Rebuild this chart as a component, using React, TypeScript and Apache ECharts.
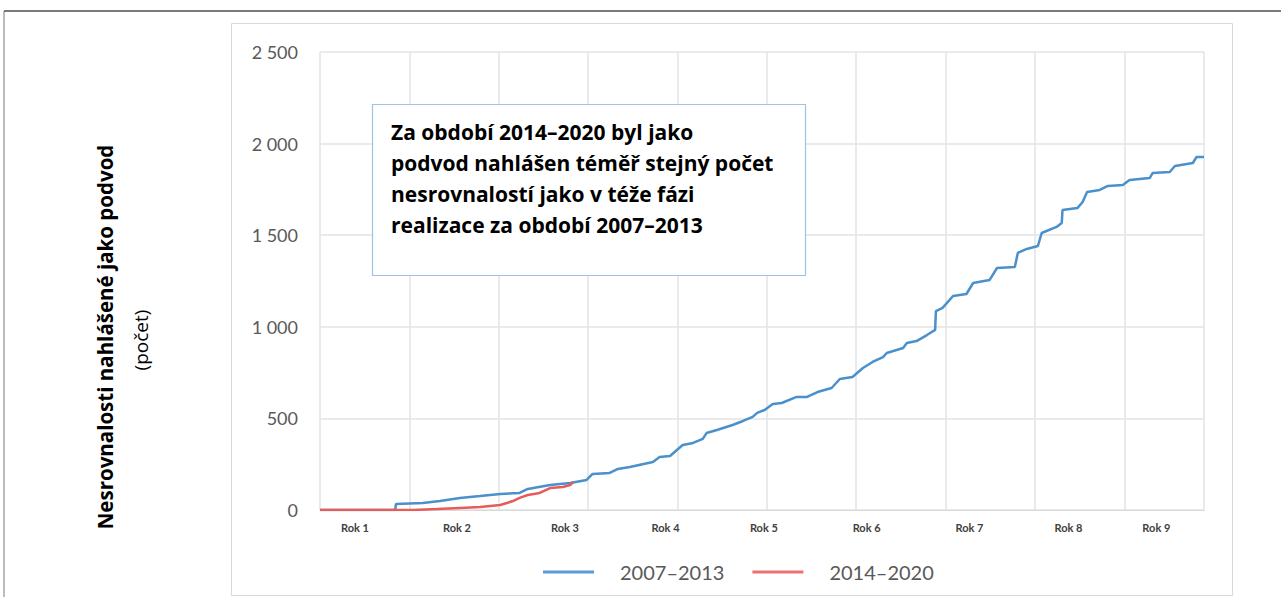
import React, { useEffect, useRef } from "react";
import * as echarts from "echarts";

// x = months since start of the programming period, y = cumulative count
const blueMonths = [0, 10.1, 10.2, 13.8, 16.1, 18.8, 21.5, 24.2, 26.8, 27.9, 30.9, 33.6, 35.8, 36.6, 38.9, 40.0, 41.6, 44.7, 45.6, 47.0, 48.7, 50.1, 51.4, 51.9, 53.3, 55.4, 56.8, 58.1, 58.7, 59.7, 60.8, 62.0, 64.0, 65.4, 66.8, 68.7, 69.8, 71.5, 72.9, 74.2, 75.6, 76.1, 78.3, 78.8, 80.1, 81.5, 82.6, 82.7, 83.6, 85.0, 86.8, 87.7, 89.9, 90.9, 93.3, 93.7, 94.9, 96.4, 96.9, 98.9, 99.6, 99.7, 101.7, 102.4, 103.0, 104.7, 105.8, 107.8, 108.7, 111.4, 111.8, 114.1, 114.8, 117.2, 117.7, 118.7];
const blueValues = [0, 0, 33, 38, 49, 66, 76, 87, 93, 115, 136, 147, 164, 197, 202, 224, 235, 262, 289, 295, 355, 366, 388, 420, 437, 464, 486, 508, 530, 546, 579, 584, 617, 617, 644, 666, 715, 726, 775, 808, 835, 857, 884, 912, 922, 955, 983, 1086, 1103, 1168, 1179, 1239, 1255, 1321, 1326, 1403, 1425, 1441, 1512, 1545, 1567, 1637, 1648, 1681, 1736, 1747, 1769, 1774, 1801, 1812, 1839, 1845, 1878, 1894, 1927, 1927];

const redMonths = [0, 12.5, 15.7, 18.8, 21.5, 24.2, 25.1, 25.9, 26.8, 27.9, 29.5, 30.9, 32.6, 33.6, 34.0];
const redValues = [0, 0, 5, 11, 16, 27, 38, 49, 66, 82, 93, 120, 126, 136, 153];

const seriesNames = ["2007–2013", "2014–2020"];
const yearLabels = ["Rok 1", "Rok 2", "Rok 3", "Rok 4", "Rok 5", "Rok 6", "Rok 7", "Rok 8", "Rok 9"];
const yearLabelMonths = [4.7, 18.4, 32.9, 46.4, 59.6, 73.4, 87.2, 100.5, 112.3];

const yTitle = "Nesrovnalosti nahlášené jako podvod";
const yUnit = "(počet)";
const boxText = "Za období 2014–2020 byl jako\npodvod nahlášen téměř stejný počet\nnesrovnalostí jako v téže fázi\nrealizace za období 2007–2013";

const FONT = "Lato, 'Open Sans', sans-serif";
const WIDE = "'Open Sans', Lato, sans-serif";

export default function App() {
  const ref = useRef<HTMLDivElement>(null);
  useEffect(() => {
    if (!ref.current) return;
    const chart = echarts.init(ref.current, undefined, { renderer: "svg" });
    const fmt = (v: number) => String(v).replace(/\B(?=(\d{3})+(?!\d))/g, " ");
    chart.setOption({
      animation: false,
      backgroundColor: "#ffffff",
      grid: { left: 320, right: 77, top: 52, bottom: 87, containLabel: false },
      xAxis: [
        {
          type: "value",
          min: 0,
          max: 118.7,
          interval: 12,
          position: "bottom",
          axisLine: { show: true, lineStyle: { color: "#d9d9d9", width: 1 } },
          axisTick: { show: false },
          axisLabel: { show: false },
          splitLine: { show: true, lineStyle: { color: "#e3e3e3", width: 1.5 } },
        },
        {
          type: "value",
          min: 0,
          max: 118.7,
          position: "bottom",
          axisLine: { show: false },
          axisTick: { show: false },
          splitLine: { show: false },
          axisLabel: {
            show: true,
            customValues: yearLabelMonths,
            margin: 12,
            fontSize: 11,
            fontWeight: "bold",
            color: "#404040",
            fontFamily: FONT,
            formatter: (v: number) => {
              const i = yearLabelMonths.findIndex((m) => Math.abs(m - v) < 0.01);
              return i >= 0 ? yearLabels[i] : "";
            },
          },
        },
      ],
      yAxis: {
        type: "value",
        min: 0,
        max: 2500,
        interval: 500,
        axisLine: { show: false },
        axisTick: { show: false },
        splitLine: { show: true, lineStyle: { color: "#e3e3e3", width: 1.5 } },
        axisLabel: { margin: 22, fontSize: 18, color: "#595959", fontFamily: FONT, formatter: fmt },
      },
      legend: {
        left: 543,
        top: 562,
        padding: 0,
        icon: "rect",
        itemWidth: 51,
        itemHeight: 3,
        itemGap: 28,
        textStyle: { fontSize: 20, color: "#595959", fontFamily: FONT, padding: [0, 0, 0, 21] },
        data: seriesNames,
      },
      series: [
        {
          name: seriesNames[0],
          type: "line",
          xAxisIndex: 0,
          showSymbol: false,
          symbol: "none",
          lineStyle: { color: "#4a90cc", width: 2.5 },
          itemStyle: { color: "#5b9bd5" },
          data: blueMonths.map((m, i) => [m, blueValues[i]]),
          z: 2,
        },
        {
          name: seriesNames[1],
          type: "line",
          xAxisIndex: 0,
          showSymbol: false,
          symbol: "none",
          lineStyle: { color: "#e65c5a", width: 2.5 },
          itemStyle: { color: "#ee7070" },
          data: redMonths.map((m, i) => [m, redValues[i]]),
          z: 3,
        },
      ],
      graphic: [
        { type: "line", shape: { x1: 4, y1: 11, x2: 1281, y2: 11 }, style: { stroke: "#7a7a7a", lineWidth: 2 }, z: 1 },
        { type: "line", shape: { x1: 4, y1: 11, x2: 4, y2: 597 }, style: { stroke: "#7a7a7a", lineWidth: 1 }, z: 1 },
        { type: "rect", shape: { x: 231.5, y: 23.5, width: 1001, height: 572 }, style: { fill: "none", stroke: "#d9d9d9", lineWidth: 1 }, z: 1 },
        {
          type: "text",
          x: 105,
          y: 337,
          rotation: Math.PI / 2,
          style: { text: yTitle, fontSize: 20.5, fontWeight: "bold", fill: "#000000", fontFamily: WIDE, align: "center", verticalAlign: "middle" },
        },
        {
          type: "text",
          x: 141,
          y: 340,
          rotation: Math.PI / 2,
          style: { text: yUnit, fontSize: 19, fill: "#000000", fontFamily: WIDE, align: "center", verticalAlign: "middle" },
        },
        {
          type: "rect",
          shape: { x: 372.5, y: 104.5, width: 433, height: 171 },
          style: { fill: "#ffffff", stroke: "#9dc3e6", lineWidth: 1.2 },
          z: 50,
        },
        {
          type: "text",
          x: 391,
          y: 116,
          z: 51,
          style: { text: boxText, fontSize: 21, fontWeight: "bold", fill: "#000000", fontFamily: WIDE, lineHeight: 31, align: "left", verticalAlign: "top" },
        },
      ],
    });
    return () => chart.dispose();
  }, []);
  return <div ref={ref} style={{ position: "absolute", left: 0, top: 0, width: 1281, height: 597 }} />;
}
